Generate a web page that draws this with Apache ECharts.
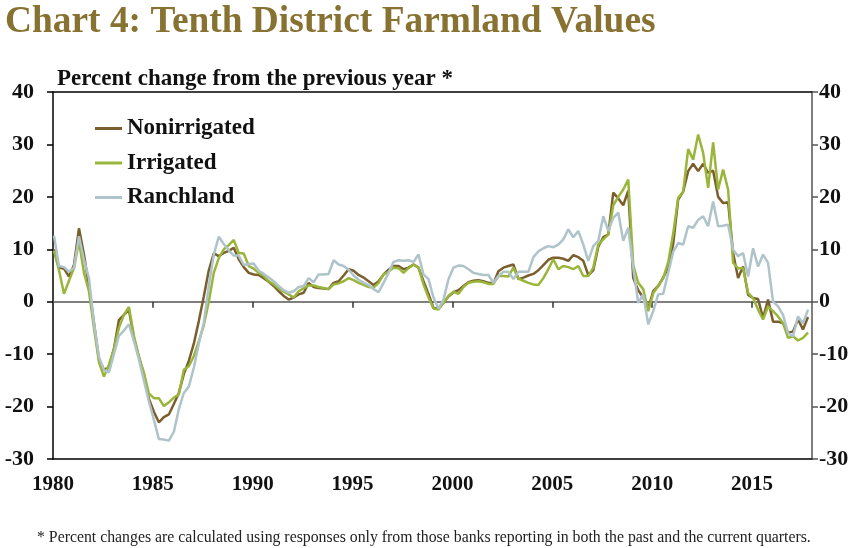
<!DOCTYPE html>
<html><head><meta charset="utf-8">
<script src="https://cdn.jsdelivr.net/npm/echarts@6/dist/echarts.min.js"></script>
<style>html,body{margin:0;padding:0;background:#fff}#c{width:864px;height:548px}</style>
</head><body><div id="c"></div>
<script>
// ---- data (quarterly, 1980Q1 onward) ----
const startYear = 1980;
const yearTicks = [1980, 1985, 1990, 1995, 2000, 2005, 2010, 2015];
const zeroLineTicks = [1985, 1990, 1995, 2000, 2005, 2010, 2015];
const seriesNames = ['Nonirrigated', 'Irrigated', 'Ranchland'];

const nonirrigated = [
  10, 6.5, 6.3, 4.8, 7, 14, 9, 3, -4, -11,
  -13, -12.5, -9, -3.5, -2.5, -1.5, -7, -10.5, -14, -18.5,
  -21, -23, -22, -21.5, -19.5, -17.4, -13.8, -11.3, -8, -3.7,
  1, 6, 9.2, 8.7, 9.3, 9.7, 10.3, 8.1, 6.6, 5.5,
  5.2, 5.1, 4.5, 3.8, 3, 2, 1.1, 0.4, 0.8, 1.4,
  1.7, 3.6, 2.8, 2.6, 2.5, 2.4, 3.6, 3.9, 5, 6.2,
  5.9, 5.1, 4.6, 3.9, 3.2, 3.9, 5.2, 6.1, 6.8, 6.8,
  6.2, 6.5, 7.1, 6.5, 3.9, 1.5, -1.2, -1.3, -0.2, 1,
  1.8, 2.2, 3, 3.7, 4, 4.1, 3.9, 3.6, 3.5, 5.8,
  6.5, 6.8, 7.1, 4.3, 4.6, 5.0, 5.3, 6.0, 7.0, 8.0,
  8.4, 8.4, 8.2, 7.8, 8.9, 8.5, 7.8, 5.1, 6.0, 10.5,
  12.3, 12.8, 20.8, 19.7, 18.4, 21.2, 4.5, 2.2, 0.8, -1.3,
  2, 3, 4.6, 6.5, 11, 19.5, 21, 24.9, 26.3, 24.9,
  26.3, 24.6, 25, 20, 18.8, 19, 9.3, 4.5, 6.7, 1.3,
  0.7, 0.5, -3.1, 0.4, -3.8, -3.8, -4.1, -5.9, -5.7, -3.4,
  -5.3, -2.9
];
const irrigated = [
  9.7, 6, 1.5, 4, 6.4, 11.5, 5.5, 2, -5, -11.5,
  -14.3, -12, -9, -5, -2.5, -1, -6.5, -10.5, -13.5, -17.5,
  -18.4, -18.4, -19.9, -19.2, -18.3, -17.7, -13, -12.3, -10.4, -7.5,
  -4.5, 0, 5.5, 8.3, 10, 10.8, 11.8, 9.3, 9.2, 6.8,
  6.3, 5.5, 4.9, 3.9, 3.3, 2.5, 1.9, 1.4, 0.8, 2,
  2.6, 3.1, 3.1, 2.8, 2.6, 2.4, 3.3, 3.5, 3.9, 4.5,
  4.1, 3.6, 3.2, 2.8, 2.7, 3.6, 5.2, 5.7, 6.5, 6.4,
  5.5, 6.4, 7.1, 6.5, 3.3, 0.8, -1.3, -1.5, -0.2, 1.1,
  1.9, 1.5, 2.8, 3.6, 3.8, 3.9, 3.7, 3.4, 3.4, 4.9,
  4.9, 4.8, 6.5, 4.4, 4.0, 3.6, 3.3, 3.2, 4.5, 6.2,
  8.1, 6.2, 6.8, 6.6, 6.2, 6.8, 4.9, 4.9, 6.5, 10.9,
  11.9, 12.8, 18.4, 20, 21.4, 23.3, 7, 3.6, 2.4, -1.8,
  1.6, 3, 4.5, 7.5, 13, 19.8, 21, 29.1, 27.1, 31.9,
  28.4, 21.7, 30.4, 21.4, 25.2, 21.4, 7.4, 6.4, 6.4, 1.7,
  0.7, -1.5, -3.4, -0.9, -1.8, -2.8, -4.1, -6.9, -6.6, -7.4,
  -6.9, -5.9
];
const ranchland = [
  12.6, 6.8, 6.6, 5.7, 6.5, 12.5, 8, 4.5, -4, -10.5,
  -13, -13.5, -10, -6.5, -5.5, -4.3, -7.5, -11, -15, -19,
  -22.5, -26.2, -26.3, -26.5, -24.8, -20.5, -17.4, -16.2, -12.6, -8,
  -4, 3, 9, 12.4, 11, 9.8, 8.8, 8.8, 7, 7.2,
  7.3, 5.9, 5.3, 4.6, 3.9, 3, 2.2, 1.7, 2, 2.8,
  3, 4.5, 3.7, 5.2, 5.2, 5.3, 7.9, 7.1, 6.8, 6.1,
  5, 4.2, 3.6, 3.2, 2.4, 1.8, 3.6, 5.5, 7.6, 7.9,
  7.8, 7.9, 7.6, 9, 5.2, 4.3, 0.8, -1.3, 0.4, 4.3,
  6.5, 6.9, 6.8, 6.2, 5.5, 5.3, 5.1, 5.1, 3.6, 4.9,
  5.7, 5.7, 4.3, 5.7, 5.7, 5.7, 8.5, 9.6, 10.2, 10.6,
  10.4, 10.9, 11.9, 13.8, 12.3, 13.5, 10.9, 7.8, 10.6, 11.6,
  16.3, 13.5, 16, 17, 11.6, 14.1, 6.5, -0.2, 1.4, -4.3,
  -1.8, 1.4, 1.5, 5.5, 9.5, 11.2, 10.9, 14.4, 14.1, 15.6,
  16.3, 14.4, 19.1, 14.4, 14.5, 14.7, 9.9, 8.7, 9.3, 4.8,
  10.2, 6.7, 9, 7.4, 0, -0.9, -2.5, -6, -6.6, -2.8,
  -4.1, -1.5
];

// quarter labels, e.g. "1980Q1"
const quarters = nonirrigated.map((_, i) => (startYear + Math.floor(i / 4)) + 'Q' + (i % 4 + 1));
function quarterPos(label) {
  const y = +label.slice(0, 4), q = +label.slice(5);
  return y + (q - 1) / 4 + 0.05;
}
function pairs(vals) { return quarters.map((q, i) => [quarterPos(q), vals[i]]); }

const SERIF = "'Liberation Serif', 'DejaVu Serif', serif";
const colors = ['#7b5e2d', '#9ab63a', '#aec3ca'];
const xLbl = { fontFamily: SERIF, fontWeight: 'bold', fontSize: 21, color: '#111' };
const yLbl = { fontFamily: SERIF, fontWeight: 'bold', fontSize: 22, color: '#111' };

const chart = echarts.init(document.getElementById('c'), null, { renderer: 'canvas' });
chart.setOption({
  animation: false,
  backgroundColor: '#fff',
  title: [
    { text: 'Chart 4: Tenth District Farmland Values', left: 5, top: 4, padding: 0,
      textStyle: { fontFamily: SERIF, fontWeight: 'bold', fontSize: 37.4, color: '#887232' } },
    { text: 'Percent change from the previous year *', left: 57, top: 68, padding: 0,
      textStyle: { fontFamily: SERIF, fontWeight: 'bold', fontSize: 23, color: '#111' } },
    { text: '* Percent changes are calculated using responses only from those banks reporting in both the past and the current quarters.',
      left: 37, top: 530, padding: 0,
      textStyle: { fontFamily: SERIF, fontWeight: 'normal', fontSize: 15.8, color: '#222' } }
  ],
  legend: {
    orient: 'vertical', left: 95, top: 117, padding: 0, itemWidth: 27, itemHeight: 3, itemGap: 11.5,
    icon: 'rect', data: seriesNames,
    textStyle: { fontFamily: SERIF, fontWeight: 'bold', fontSize: 23, color: '#111' }
  },
  grid: { left: 53, right: 52, top: 92, bottom: 89 },
  xAxis: [
    { type: 'value', min: 1980, max: 2018, position: 'bottom',
      axisLine: { onZero: false, lineStyle: { color: '#000', width: 1.5 } },
      axisTick: { show: false }, splitLine: { show: false },
      axisLabel: Object.assign({ customValues: yearTicks, margin: 15, formatter: v => String(v) }, xLbl) },
    { type: 'value', min: 1980, max: 2018, position: 'bottom',
      axisLine: { onZero: true, onZeroAxisIndex: 0, lineStyle: { color: '#555', width: 1.5 } },
      axisTick: { show: true, customValues: zeroLineTicks, inside: false, length: 6, lineStyle: { color: '#333', width: 1.5 } },
      axisLabel: { show: false }, splitLine: { show: false } },
    { type: 'value', min: 1980, max: 2018, position: 'top',
      axisLine: { onZero: false, lineStyle: { color: '#000', width: 1.5 } },
      axisTick: { show: false }, axisLabel: { show: false }, splitLine: { show: false } }
  ],
  yAxis: [
    { type: 'value', min: -30, max: 40, interval: 10, position: 'left',
      axisLine: { show: true, onZero: false, lineStyle: { color: '#000', width: 1.5 } },
      axisTick: { show: true, inside: false, length: 6, lineStyle: { color: '#000', width: 1.5 } },
      axisLabel: Object.assign({ margin: 19 }, yLbl), splitLine: { show: false } },
    { type: 'value', min: -30, max: 40, interval: 10, position: 'right',
      axisLine: { show: true, onZero: false, lineStyle: { color: '#555', width: 1.5 } },
      axisTick: { show: true, inside: false, length: 6, lineStyle: { color: '#555', width: 1.5 } },
      axisLabel: Object.assign({ margin: 7 }, yLbl), splitLine: { show: false } }
  ],
  series: [
    { name: seriesNames[0], type: 'line', data: pairs(nonirrigated), showSymbol: false, symbol: 'none',
      lineStyle: { color: colors[0], width: 2.5 }, itemStyle: { color: colors[0] } },
    { name: seriesNames[1], type: 'line', data: pairs(irrigated), showSymbol: false, symbol: 'none',
      lineStyle: { color: colors[1], width: 2.5 }, itemStyle: { color: colors[1] } },
    { name: seriesNames[2], type: 'line', data: pairs(ranchland), showSymbol: false, symbol: 'none',
      lineStyle: { color: colors[2], width: 2.5 }, itemStyle: { color: colors[2] } }
  ]
});
</script>
</body></html>
